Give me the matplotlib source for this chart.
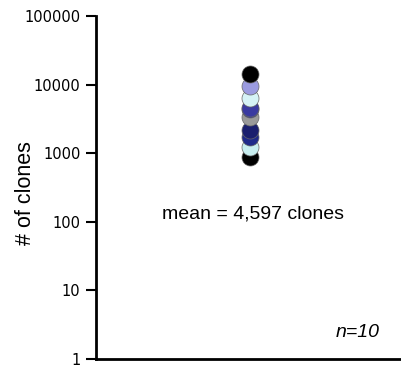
import matplotlib
matplotlib.use("Agg")
import matplotlib.pyplot as plt
from matplotlib.ticker import FixedLocator, FixedFormatter

plt.rcParams['font.family'] = ['Liberation Sans', 'DejaVu Sans']

# clone counts per sample
clones = [880, 1230, 1730, 2180, 3400, 4400, 4600, 6350, 9500, 14300]
colors = ['#000000', '#c8eef0', '#1f2a8a', '#1a1f6e', '#9a9a9a',
          '#2a2f9a', '#3a3aa0', '#d6f3f6', '#9b9be0', '#000000']
yticks = [1, 10, 100, 1000, 10000, 100000]
ytick_labels = ['1', '10', '100', '1000', '10000', '100000']
mean_text = "mean = 4,597 clones"
n_text = "n=10"

fig = plt.figure(figsize=(4.01, 3.70), dpi=100)
ax = fig.add_axes([0.239, 0.03, 0.759, 0.927])

for v, c in zip(clones, colors):
    ax.scatter([0.507], [v], s=150, color=c, edgecolor='#666666',
               linewidth=0.5, zorder=3)

ax.set_yscale('log')
ax.set_ylim(1, 100000)
ax.set_xlim(0, 1)
ax.yaxis.set_major_locator(FixedLocator(yticks))
ax.yaxis.set_major_formatter(FixedFormatter(ytick_labels))
ax.yaxis.set_minor_locator(FixedLocator([]))
ax.set_xticks([])
ax.tick_params(axis='y', direction='out', length=7.5, width=1.5,
               labelsize=10.5, pad=3.5)
for lab in ax.get_yticklabels():
    lab.set_family('DejaVu Sans')
for s in ['top', 'right']:
    ax.spines[s].set_visible(False)
for s in ['left', 'bottom']:
    ax.spines[s].set_linewidth(2)

ax.set_ylabel("# of clones", fontsize=15.5)
ax.yaxis.set_label_coords(-0.198, 0.483)
ax.text(0.517, 130, mean_text, ha='center', va='center', fontsize=14)
ax.text(0.86, 2.4, n_text, ha='center', va='center', fontsize=14,
        style='italic')

fig.savefig("out.png", dpi=100)
